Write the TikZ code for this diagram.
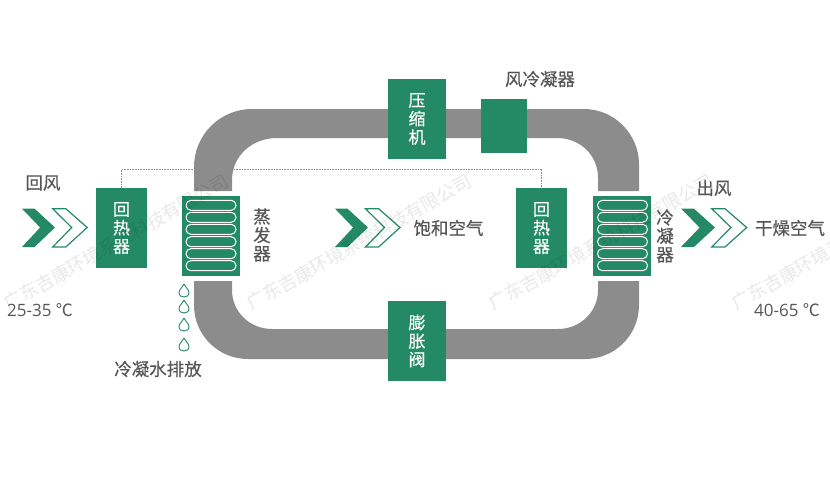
\documentclass[tikz,border=0pt]{standalone}
\usepackage{fontspec}
\setmainfont{Noto Sans CJK SC}
\newfontfamily\latinf{Open Sans}
\newfontfamily\heavyf[RawFeature={embolden=0.35}]{Noto Sans CJK SC}
\definecolor{gr}{HTML}{248A66}
\definecolor{pipe}{HTML}{8C8C8C}
\definecolor{tx}{HTML}{555555}
\tikzset{
 x=1pt,y=-1pt,
 box/.style={fill=gr,draw=none,inner sep=0pt,text=white,align=center,font=\heavyf\fontsize{17}{18.5}\selectfont,minimum width=#1},
 box/.default=58,
 lab/.style={text=tx,inner sep=0pt,font=\heavyf\fontsize{17.5}{18.5}\selectfont,align=center},
 num/.style={text=tx,inner sep=0pt,font=\latinf\fontsize{17}{19}\selectfont},
 coil/.style={draw=white,line width=1pt,rounded corners=4.9pt},
 drop/.style={draw=gr,line width=0.9pt,fill=white},
 wmk/.style={text=black,text opacity=0.09,inner sep=0pt,rotate=29.5,anchor=west,font=\fontsize{18.2}{20}\selectfont},
 chevfill/.style={fill=gr,draw=none},
 chevline/.style={draw=gr,line width=1.2pt,fill=white},
 link/.style={draw=gr!75,line width=0.6pt,densely dotted},
}
\newcommand{\chev}[3]{% style, left x, size
 \path[#1] (#2,208.7) -- ++(#3*0.38,0) -- ++(#3*0.62,18.8) -- ++(-#3*0.62,19.5) -- ++(-#3*0.38,0) -- ++(#3*0.55,-19.5) -- cycle;}
\newcommand{\coils}[1]{%
 \foreach \yy in {200.3,212.3,224.3,236.7,248.7,260.7}
  \draw[coil] (#1,\yy) rectangle ++(50,10);}
\newcommand{\dropat}[2]{%
 \draw[drop] (#1,#2-6.8) .. controls (#1+1.5,#2-3.5) and (#1+5,#2-1.5) .. (#1+5,#2+1.5)
   .. controls (#1+5,#2+4.8) and (#1+2.5,#2+6) .. (#1,#2+6)
   .. controls (#1-2.5,#2+6) and (#1-5,#2+4.8) .. (#1-5,#2+1.5)
   .. controls (#1-5,#2-1.5) and (#1-1.5,#2-3.5) .. (#1,#2-6.8) -- cycle;}
\begin{document}
\begin{tikzpicture}
\useasboundingbox (0,0) rectangle (830,480);
% pipes
\fill[pipe] (194,191) -- (194,167) .. controls (194,135) and (220,109) .. (252,109)
 -- (584,109) .. controls (614,109) and (639,134) .. (639,164) -- (639,191) -- (598,191) -- (598,178)
 .. controls (598,155) and (580,138) .. (557,138) -- (277,138)
 .. controls (252,138) and (232,156) .. (232,180) -- (232,191) -- cycle;
\fill[pipe] (194,281) -- (194,305) .. controls (194,335) and (218,359) .. (248,359)
 -- (585,359) .. controls (615,359) and (639,335) .. (639,305) -- (639,281) -- (598,281) -- (598,290)
 .. controls (598,312) and (580,329) .. (558,329) -- (272,329)
 .. controls (250,329) and (232,312) .. (232,290) -- (232,281) -- cycle;
% boxes
\node[box=51,minimum height=80] (rh1) at (121.5,228) {回\\热\\器};
\node[box=51,minimum height=80] (rh2) at (541.5,228) {回\\热\\器};
\node[box=58,minimum height=80] (evap) at (211,236) {};
\node[box=58,minimum height=80] (cond) at (622,236) {};
\node[box=58,minimum height=80] (comp) at (417,119) {压\\缩\\机};
\node[box=46,minimum height=54] (acond) at (504,126) {};
\node[box=58,minimum height=80] (valve) at (417,341) {膨\\胀\\阀};
\coils{186}
\coils{597.5}
% dotted link
\coordinate (lk) at (121.5,169);
\draw[link] (rh1.north) -- (lk) -| (rh2.north);
% chevrons
\chev{chevfill}{22}{33}
\chev{chevline}{52.7}{34.5}
\chev{chevfill}{335}{33}
\chev{chevline}{365.5}{34.5}
\chev{chevfill}{681}{34}
\chev{chevline}{711.7}{35}
% drops
\dropat{184}{291}
\dropat{184}{307}
\dropat{184}{325}
\dropat{184}{345}
% labels
\node[lab] (t1) at (43,183) {回风};
\node[num] (t2) at (40,310) {25-35 \fontspec{Noto Sans CJK SC}℃};
\node[lab] (t3) at (262,235) {蒸\\发\\器};
\node[lab] (t4) at (158,369) {冷凝水排放};
\node[lab] (t5) at (448.5,228) {饱和空气};
\node[lab] (t6) at (540,79) {风冷凝器};
\node[lab] (t7) at (665,236) {冷\\凝\\器};
\node[lab] (t8) at (714,188) {出风};
\node[lab] (t9) at (790,228) {干燥空气};
\node[num] (t10) at (787,310) {40-65 \fontspec{Noto Sans CJK SC}℃};
% watermark
\node[wmk] (w1) at (5,305) {广东吉康环境系统科技有限公司};
\node[wmk] (w2) at (248,305) {广东吉康环境系统科技有限公司};
\node[wmk] (w3) at (490,305) {广东吉康环境系统科技有限公司};
\node[wmk] (w4) at (733,305) {广东吉康环境系统科技有限公司};
\end{tikzpicture}
\end{document}
